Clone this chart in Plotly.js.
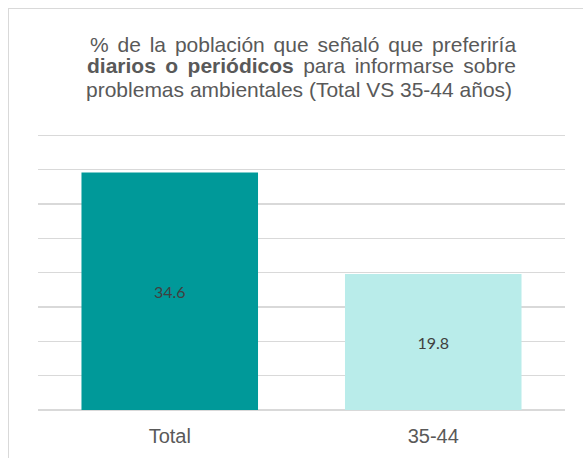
<!DOCTYPE html>
<html>
<head>
<meta charset="utf-8">
<script src="https://cdn.plot.ly/plotly-3.0.1.min.js"></script>
<style>
  html, body { margin: 0; padding: 0; width: 583px; height: 458px; overflow: hidden; background: #fff; }
  #frame { position: absolute; left: 8px; top: 8px; width: 620px; height: 520px; border: 1px solid #d9d9d9; box-sizing: border-box; }
  #chart { position: absolute; left: 0; top: 0; width: 583px; height: 458px; }
</style>
</head>
<body>
<div id="frame"></div>
<div id="chart"></div>
<script>
const categories = ["Total", "35-44"];
const values = [34.6, 19.8];
const barColors = ["#009999", "#b9ecea"];
const titleLines = [
  "% de la población que señaló que preferiría",
  "<b>diarios o periódicos</b> para informarse sobre",
  "problemas ambientales (Total VS 35-44 años)"
];

const W = 583, H = 458;
const M = { l: 38, r: 18, t: 133, b: 48 };
const plotH = H - M.t - M.b;
const plotW = W - M.l - M.r;
const px = x => (x - M.l) / plotW;
const py = y => (H - M.b - y) / plotH;

const titleFont = { family: "Liberation Sans, Arial, sans-serif", size: 21, color: "#595959" };

const trace = {
  type: "bar",
  x: categories,
  y: values,
  marker: { color: barColors },
  text: values.map(v => v.toFixed(1)),
  textposition: "inside",
  insidetextanchor: "middle",
  textfont: { family: "Lato, sans-serif", size: 16, color: "#404040" },
  hoverinfo: "none"
};

const layout = {
  width: W,
  height: H,
  margin: M,
  paper_bgcolor: "rgba(0,0,0,0)",
  plot_bgcolor: "rgba(0,0,0,0)",
  showlegend: false,
  bargap: 0.33,
  annotations: [
    { text: '<span style="word-spacing:3px">' + titleLines[0] + '</span>', x: px(518), xanchor: "right", y: py(44), yanchor: "middle" },
    { text: '<span style="word-spacing:3.6px">' + titleLines[1] + '</span>', x: px(518), xanchor: "right", y: py(66), yanchor: "middle" },
    { text: titleLines[2], x: px(84), xanchor: "left", y: py(89), yanchor: "middle" }
  ].map(a => Object.assign(a, { xref: "paper", yref: "paper", showarrow: false, font: titleFont, align: "left" })),
  xaxis: {
    showgrid: false,
    showline: false,
    ticks: "",
    ticklabelstandoff: 12,
    tickfont: { family: "Liberation Sans, Arial, sans-serif", size: 20, color: "#595959" }
  },
  yaxis: {
    range: [0, 40.36],
    dtick: 5,
    showticklabels: false,
    showgrid: true,
    gridcolor: "#d9d9d9",
    gridwidth: 1.3,
    zeroline: true,
    zerolinecolor: "#d9d9d9",
    zerolinewidth: 1.3,
    ticks: ""
  }
};

Plotly.newPlot("chart", [trace], layout, { displayModeBar: false, staticPlot: true });
</script>
</body>
</html>
